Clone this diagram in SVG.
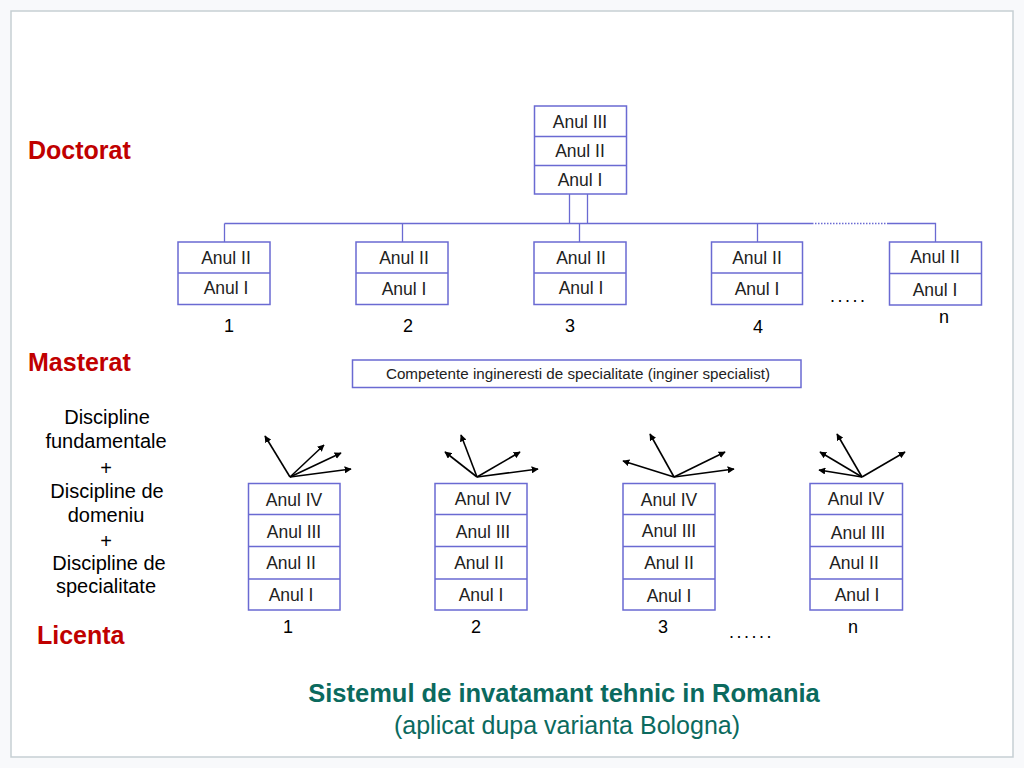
<svg xmlns="http://www.w3.org/2000/svg" width="1024" height="768" viewBox="0 0 1024 768">
<defs>
<marker id="ah" viewBox="0 0 10 10" refX="9" refY="5" markerWidth="7" markerHeight="7" markerUnits="userSpaceOnUse" orient="auto">
<path d="M0,0 L10,5 L0,10 z" fill="#000"/>
</marker>
<style>
.bx{fill:#fff;stroke:#6a6ad2;stroke-width:1.5}
.dv{stroke:#6a6ad2;stroke-width:1.3;fill:none}
.cn{stroke:#6a6ad2;stroke-width:1.3;fill:none}
.t{font-family:"Liberation Sans",Arial,sans-serif;font-size:17.5px;fill:#222;text-anchor:middle}
.lb{font-family:"Liberation Sans",Arial,sans-serif;font-size:18px;fill:#000;text-anchor:middle}
.dots{font-family:"Liberation Sans",Arial,sans-serif;font-size:18px;fill:#000;letter-spacing:2.5px}
.sec{font-family:"Liberation Sans",Arial,sans-serif;font-size:25px;font-weight:bold;fill:#c00000}
.ar{stroke:#000;stroke-width:1.6;fill:none;marker-end:url(#ah)}
</style>
</defs>
<rect x="0" y="0" width="1024" height="768" fill="#f8f9fb"/>
<rect x="11" y="11" width="1002" height="746" fill="#fff" stroke="#c6cfd4" stroke-width="1.5"/>

<g id="connectors">
<path class="cn" d="M569.5,194 V223.5 M587.5,194 V223.5"/>
<path class="cn" d="M224.5,223.5 H812 M888,223.5 H935.5 V242"/>
<path d="M812,223.5 H888" stroke="#6a6ad2" stroke-width="1.3" stroke-dasharray="1.5,1.5" fill="none"/>
<path class="cn" d="M224.5,223.5 V242 M402.5,223.5 V242 M579.5,223.5 V242 M757.5,223.5 V242"/>
<g id="arrows1">
<line class="ar" x1="290" y1="477" x2="265" y2="436"/>
<line class="ar" x1="290" y1="477" x2="324" y2="445"/>
<line class="ar" x1="290" y1="477" x2="341" y2="453"/>
<line class="ar" x1="290" y1="477" x2="351" y2="469"/>
</g>
<g id="arrows2">
<line class="ar" x1="477" y1="477" x2="445" y2="452"/>
<line class="ar" x1="477" y1="477" x2="461" y2="435"/>
<line class="ar" x1="477" y1="477" x2="520" y2="452"/>
<line class="ar" x1="477" y1="477" x2="538" y2="469"/>
</g>
<g id="arrows3">
<line class="ar" x1="674" y1="477" x2="623" y2="461"/>
<line class="ar" x1="674" y1="477" x2="650" y2="434"/>
<line class="ar" x1="674" y1="477" x2="725" y2="452"/>
<line class="ar" x1="674" y1="477" x2="734" y2="469"/>
</g>
<g id="arrowsn">
<line class="ar" x1="862" y1="477" x2="820" y2="452"/>
<line class="ar" x1="862" y1="477" x2="819" y2="470"/>
<line class="ar" x1="862" y1="477" x2="837" y2="434"/>
<line class="ar" x1="862" y1="477" x2="905" y2="452"/>
</g>
</g>

<g id="doctorat">
<rect class="bx" x="534.5" y="106" width="92" height="88"/>
<path class="dv" d="M534.5,136.5 H626.5 M534.5,165.5 H626.5"/>
<text class="t" x="580" y="128">Anul III</text>
<text class="t" x="580" y="157">Anul II</text>
<text class="t" x="580" y="186">Anul I</text>
</g>

<g id="master1">
<rect class="bx" x="178" y="242" width="92" height="62.5"/>
<path class="dv" d="M178,273 H270"/>
<text class="t" x="226" y="264">Anul II</text>
<text class="t" x="226" y="294">Anul I</text>
</g>
<g id="master2">
<rect class="bx" x="356" y="242" width="92" height="62.5"/>
<path class="dv" d="M356,273 H448"/>
<text class="t" x="404" y="264">Anul II</text>
<text class="t" x="404" y="295">Anul I</text>
</g>
<g id="master3">
<rect class="bx" x="534" y="242" width="92" height="62.5"/>
<path class="dv" d="M534,273 H626"/>
<text class="t" x="581" y="264">Anul II</text>
<text class="t" x="581" y="294">Anul I</text>
</g>
<g id="master4">
<rect class="bx" x="711.5" y="242" width="91" height="62.5"/>
<path class="dv" d="M711.5,273 H802.5"/>
<text class="t" x="757" y="264">Anul II</text>
<text class="t" x="757" y="295">Anul I</text>
</g>
<g id="mastern">
<rect class="bx" x="889.5" y="242" width="92" height="63"/>
<path class="dv" d="M889.5,273.5 H981.5"/>
<text class="t" x="935" y="263">Anul II</text>
<text class="t" x="935" y="296">Anul I</text>
</g>

<g id="master-labels">
<text class="lb" x="229" y="332">1</text>
<text class="lb" x="408" y="332">2</text>
<text class="lb" x="570" y="332">3</text>
<text class="lb" x="758" y="333">4</text>
<text class="lb" x="944" y="323">n</text>
<text class="dots" x="830" y="302">.....</text>
</g>

<g id="competente">
<rect x="352.5" y="360" width="448.5" height="27.5" fill="#fff" stroke="#6a6ad2" stroke-width="1.5"/>
<text x="578" y="379" font-family="Liberation Sans, Arial, sans-serif" font-size="15.2" fill="#222" text-anchor="middle">Competente ingineresti de specialitate (inginer specialist)</text>
</g>

<g id="licenta1">
<rect class="bx" x="248.5" y="483.5" width="91.5" height="126.5"/>
<path class="dv" d="M248.5,514.5 H340 M248.5,546.5 H340 M248.5,579 H340"/>
<text class="t" x="294" y="506">Anul IV</text>
<text class="t" x="294" y="538">Anul III</text>
<text class="t" x="291" y="569">Anul II</text>
<text class="t" x="291" y="601">Anul I</text>
</g>
<g id="licenta2">
<rect class="bx" x="435" y="483.5" width="92" height="126.5"/>
<path class="dv" d="M435,514.5 H527 M435,546.5 H527 M435,579 H527"/>
<text class="t" x="483" y="505">Anul IV</text>
<text class="t" x="483" y="538">Anul III</text>
<text class="t" x="479" y="569">Anul II</text>
<text class="t" x="481" y="601">Anul I</text>
</g>
<g id="licenta3">
<rect class="bx" x="623" y="483.5" width="92" height="126.5"/>
<path class="dv" d="M623,514.5 H715 M623,546.5 H715 M623,579 H715"/>
<text class="t" x="669" y="506">Anul IV</text>
<text class="t" x="669" y="537">Anul III</text>
<text class="t" x="669" y="569">Anul II</text>
<text class="t" x="669" y="602">Anul I</text>
</g>
<g id="licentan">
<rect class="bx" x="810" y="483.5" width="92.5" height="126.5"/>
<path class="dv" d="M810,514.5 H902.5 M810,546.5 H902.5 M810,579 H902.5"/>
<text class="t" x="856" y="505">Anul IV</text>
<text class="t" x="858" y="539">Anul III</text>
<text class="t" x="854" y="569">Anul II</text>
<text class="t" x="857" y="601">Anul I</text>
</g>

<g id="licenta-labels">
<text class="lb" x="288" y="633">1</text>
<text class="lb" x="476" y="633">2</text>
<text class="lb" x="663" y="633">3</text>
<text class="lb" x="853" y="633">n</text>
<text class="dots" x="729" y="638">......</text>
</g>

<g id="sections">
<text class="sec" x="28" y="159">Doctorat</text>
<text class="sec" x="28" y="371">Masterat</text>
<text class="sec" x="37" y="644">Licenta</text>
</g>

<g id="disciplines" font-family="Liberation Sans, Arial, sans-serif" font-size="20" fill="#000" text-anchor="middle">
<text x="107" y="424">Discipline</text>
<text x="106" y="448">fundamentale</text>
<text x="106" y="475">+</text>
<text x="107" y="498">Discipline de</text>
<text x="106" y="522">domeniu</text>
<text x="106" y="548">+</text>
<text x="109" y="570">Discipline de</text>
<text x="106" y="593">specialitate</text>
</g>

<g id="title" font-family="Liberation Sans, Arial, sans-serif" fill="#0b6a5e" text-anchor="middle">
<text x="564" y="702" font-size="25.5" font-weight="bold">Sistemul de invatamant tehnic in Romania</text>
<text x="567" y="734" font-size="25">(aplicat dupa varianta Bologna)</text>
</g>
</svg>
